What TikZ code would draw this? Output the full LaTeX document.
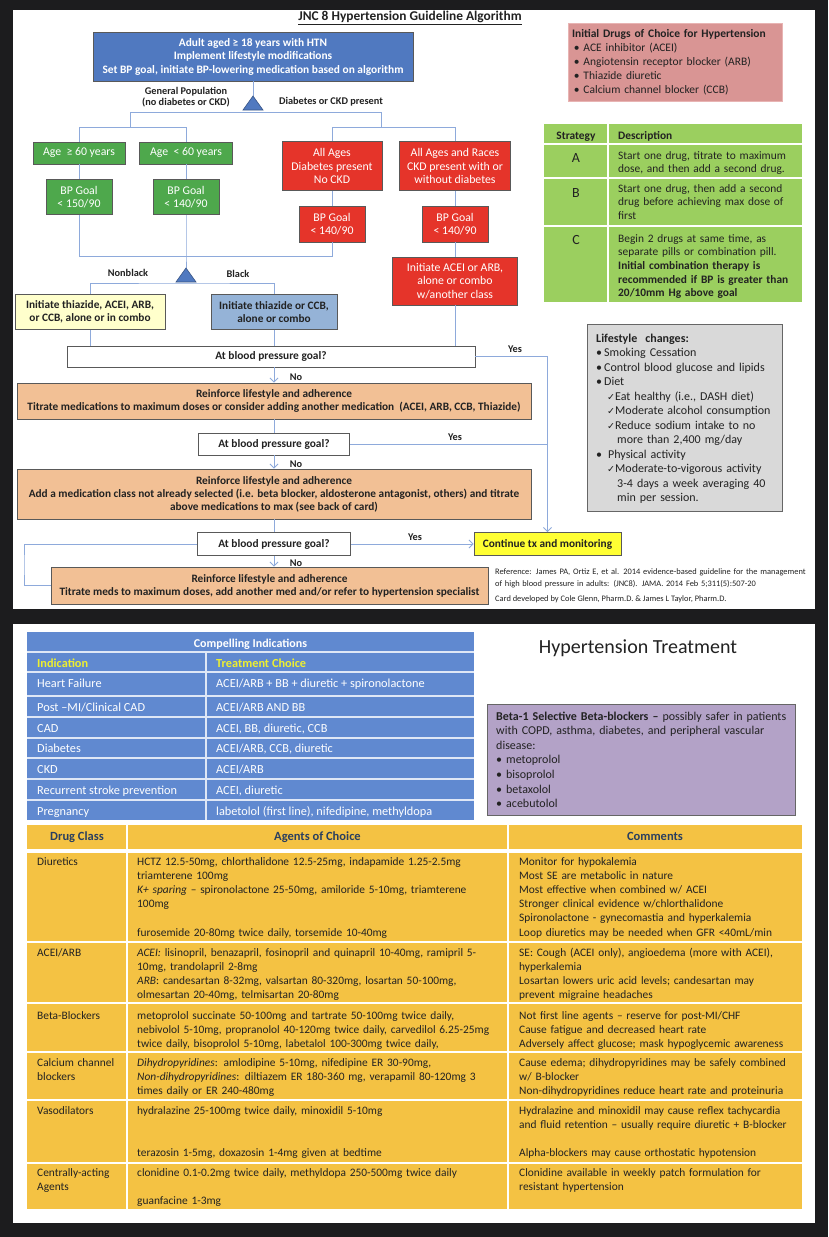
\documentclass[tikz,border=0pt]{standalone}
\usepackage{fontspec}
\setmainfont{Carlito}
\newfontfamily\symfont{DejaVu Sans}
\usetikzlibrary{arrows.meta}

\definecolor{pagebg}{HTML}{1C1C1E}
\definecolor{topblue}{HTML}{5079C0}
\definecolor{goodgreen}{HTML}{4EA84C}
\definecolor{alertred}{HTML}{E5342A}
\definecolor{paleyellow}{HTML}{FFFFCC}
\definecolor{paleblue}{HTML}{95B3D7}
\definecolor{linkblue}{HTML}{8EAADB}
\definecolor{peach}{HTML}{F2C095}
\definecolor{brightyellow}{HTML}{FFFF33}
\definecolor{rosefill}{HTML}{D99594}
\definecolor{roseline}{HTML}{E8B4B3}
\definecolor{stratgreen}{HTML}{9BCF5F}
\definecolor{lifegray}{HTML}{D9D9D9}
\definecolor{indblue}{HTML}{6089D0}
\definecolor{indyellow}{HTML}{EEF030}
\definecolor{lavender}{HTML}{B3A2C7}
\definecolor{gold}{HTML}{F4C243}
\definecolor{slatetext}{HTML}{2A3F5F}
\definecolor{inkgray}{HTML}{222222}

\newcommand{\fsz}[2]{\fontsize{#1}{#2}\selectfont}
\newcommand{\chk}{{\symfont\fsz{9.5}{14}✓}}

\tikzset{
  fbox/.style={draw=black!65, line width=0.8pt, align=center, inner sep=1pt},
  bluebox/.style={fbox, fill=topblue, text=white, font=\bfseries\fsz{11.4}{13.5}},
  greenbox/.style={fbox, fill=goodgreen, text=white, font=\fsz{11.8}{13.5}},
  redbox/.style={fbox, fill=alertred, text=white, font=\fsz{11.8}{13.5}},
  askbox/.style={fbox, fill=white, text=inkgray, font=\bfseries\fsz{11.4}{13}},
  peachbox/.style={fbox, fill=peach, text=inkgray, font=\bfseries\fsz{11.3}{13}},
  tag/.style={text=inkgray, font=\bfseries\fsz{10.3}{11.5}, align=center, inner sep=0pt},
  conn/.style={draw=linkblue, line width=0.9pt},
  arr/.style={conn, -{Straight Barb[length=4pt, width=8pt]}},
  tri/.style={fill=topblue, draw=topblue!70!black, line width=0.6pt},
  cell/.style={anchor=base west, align=left, inner sep=0pt},
}

\begin{document}
\begin{tikzpicture}[x=1pt, y=-1pt]
  % 背景
  \useasboundingbox (0,0) rectangle (828,1237);
  \fill[pagebg] (0,0) rectangle (828,1237);
  \fill[white] (13,10) rectangle (815,609);
  \fill[white] (13,624) rectangle (815,1223);

  % 标题
  \node[text=inkgray, font=\bfseries\fsz{13.4}{15}] (title) at (410,18) {\underline{JNC 8 Hypertension Guideline Algorithm}};

  % 起点
  \node[bluebox, minimum width=320, minimum height=49] (start) at (253,56.5)
    {Adult aged ≥ 18 years with HTN\\Implement lifestyle modifications\\Set BP goal, initiate BP-lowering medication based on algorithm};
  \coordinate (split1) at (253,96);
  \draw[conn] (start) -- (split1);
  \draw[tri] (split1) -- ++(10,14) -- ++(-20,0) -- cycle;
  \node[tag] (lgen) at (186,97) {General Population\\(no diabetes or CKD)};
  \node[tag] (ldk) at (331,102) {Diabetes or CKD present};

  % 一般人群
  \node[greenbox, minimum width=92, minimum height=22] (ageA) at (79,153) {Age ~≥ 60 years};
  \node[greenbox, minimum width=93, minimum height=22] (ageB) at (186,153) {Age ~< 60 years};
  \node[greenbox, minimum width=66, minimum height=35] (goalA) at (79,197) {BP Goal\\< 150/90};
  \node[greenbox, minimum width=66, minimum height=35] (goalB) at (186,197) {BP Goal\\< 140/90};

  % 糖尿病或CKD
  \node[redbox, minimum width=100, minimum height=49] (ckdA) at (332,166) {All Ages\\Diabetes present\\No CKD};
  \node[redbox, minimum width=111, minimum height=49] (ckdB) at (455,166) {All Ages and Races\\CKD present with or\\without diabetes};
  \node[redbox, minimum width=66, minimum height=36] (goalC) at (332,224) {BP Goal\\< 140/90};
  \node[redbox, minimum width=66, minimum height=36] (goalD) at (455,224) {BP Goal\\< 140/90};
  \node[redbox, minimum width=125, minimum height=48] (initR) at (455,281) {Initiate ACEI or ARB,\\alone or combo\\w/another class};

  % 分支连线
  \coordinate (jL) at (130,127);
  \coordinate (dk) at (381,112);
  \coordinate (jR) at (381,127);
  \draw[conn] (ageA) |- (jL);
  \draw[conn] (ageB) |- (jL);
  \draw[conn] (jL) |- (dk) -- (jR);
  \draw[conn] (ckdA) |- (jR);
  \draw[conn] (ckdB) |- (jR);
  \draw[conn] (ageA) -- (goalA);
  \draw[conn] (ageB) -- (goalB);
  \draw[conn] (ckdA) -- (goalC);
  \draw[conn] (ckdB) -- (goalD);
  \draw[conn] (goalD) -- (initR);

  % 种族
  \coordinate (jM) at (186,256);
  \coordinate (split2) at (186,268);
  \coordinate (jB) at (186,283);
  \draw[conn] (goalA) |- (jM);
  \draw[conn] (goalC) |- (jM);
  \draw[conn] (goalB) -- (jM) -- (split2);
  \draw[tri] (split2) -- ++(10,14) -- ++(-20,0) -- cycle;
  \node[tag] (lnb) at (128,273) {Nonblack};
  \node[tag] (lbl) at (238,274) {Black};
  \node[fbox, fill=paleyellow, text=inkgray, font=\bfseries\fsz{11.3}{13}, minimum width=150, minimum height=35] (initA) at (90,312)
    {Initiate thiazide, ACEI, ARB,\\or CCB, alone or in combo};
  \node[fbox, fill=paleblue, text=inkgray, font=\bfseries\fsz{11.3}{13}, minimum width=126, minimum height=35] (initB) at (274,312)
    {Initiate thiazide or CCB,\\alone or combo};
  \draw[conn] (initA) |- (jB) -| (initB);

  % 血压目标检查
  \node[askbox, minimum width=408, minimum height=21] (check1) at (271,356.5) {At blood pressure goal?};
  \draw[conn] (initA) -- (initA |- check1.north);
  \draw[conn] (initB) -- (initB |- check1.north);
  \draw[conn] (initR) -- (initR |- check1.north);

  \node[peachbox, minimum width=514, minimum height=36] (ord1) at (274,401)
    {Reinforce lifestyle and adherence\\Titrate medications to maximum doses or consider adding another medication~ (ACEI, ARB, CCB, Thiazide)};
  \node[askbox, minimum width=151, minimum height=22] (check2) at (274,444) {At blood pressure goal?};
  \node[peachbox, minimum width=514, minimum height=50] (ord2) at (274,494)
    {Reinforce lifestyle and adherence\\Add a medication class not already selected (i.e. beta blocker, aldosterone antagonist, others) and titrate\\above medications to max (see back of card)};
  \node[askbox, minimum width=153, minimum height=23] (check3) at (274,544) {At blood pressure goal?};
  \node[peachbox, minimum width=437, minimum height=37] (ord3) at (269.5,585.5)
    {Reinforce lifestyle and adherence\\Titrate meds to maximum doses, add another med and/or refer to hypertension specialist};
  \node[fbox, fill=brightyellow, text=inkgray, font=\bfseries\fsz{11.3}{13}, minimum width=147, minimum height=23] (cont) at (547.5,544)
    {Continue tx and monitoring};

  \draw[arr] (check1.south -| ord1) -- (ord1);
  \draw[conn] (ord1) -- (check2);
  \draw[arr] (check2) -- (ord2);
  \draw[conn] (ord2) -- (check3);
  \draw[arr] (check3) -- (check3 |- ord3.north);
  \draw[arr] (check1) -| (cont);
  \draw[conn] (check2) -- (check2.east -| cont);
  \draw[arr] (check3) -- (cont);
  \coordinate (loop) at (24,565);
  \draw[conn] (check3) -| (loop) |- (ord3);

  \node[tag] (no1) at (296,377) {No};
  \node[tag] (no2) at (296,464) {No};
  \node[tag] (no3) at (296,563) {No};
  \node[tag] (yes1) at (515,349) {Yes};
  \node[tag] (yes2) at (455,437) {Yes};
  \node[tag] (yes3) at (415,537) {Yes};

  % 参考文献
  \node[cell, text width=400, text=inkgray, font=\fsz{8.4}{12}] (refnote) at (495,574)
    {Reference: James PA, Ortiz E, et al. 2014 evidence-based guideline for the management\\of high blood pressure in adults: (JNC8). JAMA. 2014 Feb 5;311(5):507-20};
  \node[cell, text=inkgray, font=\fsz{8.4}{12}] (credit) at (495,601)
    {Card developed by Cole Glenn, Pharm.D. \& James L Taylor, Pharm.D.};

  % 首选药物
  \node[draw=roseline, line width=1pt, fill=rosefill, minimum width=214, minimum height=78, text width=206,
        align=left, font=\fsz{11.5}{14}, text=inkgray, inner sep=0pt] (initdrugs) at (675,62)
    {\textbf{Initial Drugs of Choice for Hypertension}\\\,•~ACE inhibitor (ACEI)\\\,•~Angiotensin receptor blocker (ARB)\\\,•~Thiazide diuretic\\\,•~Calcium channel blocker (CCB)};

  % 策略表
  \fill[stratgreen] (544,124) rectangle (802,302);
  \draw[white, line width=2pt] (608,124) -- (608,302);
  \foreach \yy in {144,178,226}
    \draw[white, line width=2pt] (544,\yy) -- (802,\yy);
  \node[anchor=base, inner sep=0pt, text=inkgray, font=\bfseries\fsz{11.4}{13.7}] (shead) at (576,139) {Strategy};
  \node[cell, text=inkgray, font=\bfseries\fsz{11.4}{13.7}] (dhead) at (618,139) {Description};
  \node[anchor=base, inner sep=0pt, text=inkgray, font=\fsz{14}{14}] (sA) at (576,162) {A};
  \node[anchor=base, inner sep=0pt, text=inkgray, font=\fsz{14}{14}] (sB) at (576,197) {B};
  \node[anchor=base, inner sep=0pt, text=inkgray, font=\fsz{14}{14}] (sC) at (576,244) {C};
  \node[cell, text width=190, text=inkgray, font=\fsz{11.4}{13.7}] (dA) at (618,159)
    {Start one drug, titrate to maximum\\dose, and then add a second drug.};
  \node[cell, text width=190, text=inkgray, font=\fsz{11.4}{13.7}] (dB) at (618,192)
    {Start one drug, then add a second\\drug before achieving max dose of\\first};
  \node[cell, text width=190, text=inkgray, font=\fsz{11.4}{13.7}] (dC) at (618,242)
    {Begin 2 drugs at same time, as\\separate pills or combination pill.\\\textbf{Initial combination therapy is}\\\textbf{recommended if BP is greater than}\\\textbf{20/10mm Hg above goal}};

  % 生活方式
  \node[draw=black!60, line width=0.8pt, fill=lifegray, minimum width=195, minimum height=187, anchor=north west] (lifebox) at (587,324) {};
  \node[cell, text width=185, text=inkgray, font=\fsz{12}{14.5}] (lifetext) at (596,342)
    {\textbf{Lifestyle\ \ changes:}\\
     •\,Smoking Cessation\\
     •\,Control blood glucose and lipids\\
     •\,Diet\\
     \hspace*{11pt}\chk Eat healthy (i.e., DASH diet)\\
     \hspace*{11pt}\chk Moderate alcohol consumption\\
     \hspace*{11pt}\chk Reduce sodium intake to no\\
     \hspace*{21pt}more than 2,400 mg/day\\
     •\hspace{6pt}Physical activity\\
     \hspace*{11pt}\chk Moderate-to-vigorous activity\\
     \hspace*{21pt}3-4 days a week averaging 40\\
     \hspace*{21pt}min per session.};

  % 强适应证表
  \fill[indblue] (27,632) rectangle (474,820);
  \foreach \yy in {651.5,672,696,716.5,737.5,758,779,800}
    \draw[white!80!indblue, line width=2pt] (27,\yy) -- (474,\yy);
  \draw[white!80!indblue, line width=2pt] (206,651.5) -- (206,820);
  \node[anchor=base, inner sep=0pt, text=white, font=\bfseries\fsz{12}{13}] (cihead) at (250.5,647) {Compelling Indications};
  \node[cell, text=indyellow, font=\bfseries\fsz{12.3}{13}] (ciind) at (37,667) {Indication};
  \node[cell, text=indyellow, font=\bfseries\fsz{12.3}{13}] (citreat) at (216,667) {Treatment Choice};
  \node[cell, text=white, font=\fsz{12.3}{13}] (ci1l) at (37,687) {Heart Failure};
  \node[cell, text=white, font=\fsz{12.3}{13}] (ci1r) at (216,687) {ACEI/ARB + BB + diuretic + spironolactone};
  \node[cell, text=white, font=\fsz{12.3}{13}] (ci2l) at (37,711) {Post –MI/Clinical CAD};
  \node[cell, text=white, font=\fsz{12.3}{13}] (ci2r) at (216,711) {ACEI/ARB AND BB};
  \node[cell, text=white, font=\fsz{12.3}{13}] (ci3l) at (37,732) {CAD};
  \node[cell, text=white, font=\fsz{12.3}{13}] (ci3r) at (216,732) {ACEI, BB, diuretic, CCB};
  \node[cell, text=white, font=\fsz{12.3}{13}] (ci4l) at (37,752) {Diabetes};
  \node[cell, text=white, font=\fsz{12.3}{13}] (ci4r) at (216,752) {ACEI/ARB, CCB, diuretic};
  \node[cell, text=white, font=\fsz{12.3}{13}] (ci5l) at (37,773) {CKD};
  \node[cell, text=white, font=\fsz{12.3}{13}] (ci5r) at (216,773) {ACEI/ARB};
  \node[cell, text=white, font=\fsz{12.3}{13}] (ci6l) at (37,794) {Recurrent stroke prevention};
  \node[cell, text=white, font=\fsz{12.3}{13}] (ci6r) at (216,794) {ACEI, diuretic};
  \node[cell, text=white, font=\fsz{12.3}{13}] (ci7l) at (37,815) {Pregnancy};
  \node[cell, text=white, font=\fsz{12.3}{13}] (ci7r) at (216,815) {labetolol (first line), nifedipine, methyldopa};

  % 右上标题与β阻滞剂
  \node[text=inkgray, font=\fsz{20}{22}] (httitle) at (638,648) {Hypertension Treatment};
  \node[draw=black!60, line width=0.8pt, fill=lavender, minimum width=308, minimum height=111, anchor=north west] (bbbox) at (487,704) {};
  \node[cell, text width=310, text=inkgray, font=\fsz{12}{14.6}] (bbtext) at (496,720)
    {\textbf{Beta-1 Selective Beta-blockers –} possibly safer in patients\\with COPD, asthma, diabetes, and peripheral vascular\\disease:\\•~metoprolol\\•~bisoprolol\\•~betaxolol\\•~acebutolol};

  % 药物表
  \fill[gold] (27,825) rectangle (802,1209);
  \draw[white, line width=2pt] (127,825) -- (127,1209);
  \draw[white, line width=2pt] (508,825) -- (508,1209);
  \draw[white, line width=3.5pt] (27,851) -- (802,851);
  \foreach \yy in {942,1003,1052,1100,1163}
    \draw[white, line width=2pt] (27,\yy) -- (802,\yy);
  \node[anchor=base, inner sep=0pt, text=slatetext, font=\bfseries\fsz{12.5}{13}] (hclass) at (77,840) {Drug Class};
  \node[anchor=base, inner sep=0pt, text=slatetext, font=\bfseries\fsz{12.5}{13}] (hagent) at (317.5,840) {Agents of Choice};
  \node[anchor=base, inner sep=0pt, text=slatetext, font=\bfseries\fsz{12.5}{13}] (hnote) at (655,840) {Comments};

  \node[cell, text width=88, text=inkgray, font=\fsz{11.4}{14.1}] (c1) at (37,865.5) {Diuretics};
  \node[cell, text width=370, text=inkgray, font=\fsz{11.4}{14.1}] (a1) at (137,865.5)
    {HCTZ 12.5-50mg, chlorthalidone 12.5-25mg, indapamide 1.25-2.5mg\\triamterene 100mg\\\textit{K+ sparing} – spironolactone 25-50mg, amiloride 5-10mg, triamterene\\100mg\\[14.1pt]furosemide 20-80mg twice daily, torsemide 10-40mg};
  \node[cell, text width=290, text=inkgray, font=\fsz{11.4}{14.1}] (n1) at (519,865.5)
    {Monitor for hypokalemia\\Most SE are metabolic in nature\\Most effective when combined w/ ACEI\\Stronger clinical evidence w/chlorthalidone\\Spironolactone - gynecomastia and hyperkalemia\\Loop diuretics may be needed when GFR <40mL/min};

  \node[cell, text width=88, text=inkgray, font=\fsz{11.4}{14.1}] (c2) at (37,956.5) {ACEI/ARB};
  \node[cell, text width=370, text=inkgray, font=\fsz{11.4}{14.1}] (a2) at (137,956.5)
    {\textit{ACEI:} lisinopril, benazapril, fosinopril and quinapril 10-40mg, ramipril 5-\\10mg, trandolapril 2-8mg\\\textit{ARB}: candesartan 8-32mg, valsartan 80-320mg, losartan 50-100mg,\\olmesartan 20-40mg, telmisartan 20-80mg};
  \node[cell, text width=290, text=inkgray, font=\fsz{11.4}{14.1}] (n2) at (519,956.5)
    {SE: Cough (ACEI only), angioedema (more with ACEI),\\hyperkalemia\\Losartan lowers uric acid levels; candesartan may\\prevent migraine headaches};

  \node[cell, text width=88, text=inkgray, font=\fsz{11.4}{14.1}] (c3) at (37,1019) {Beta-Blockers};
  \node[cell, text width=370, text=inkgray, font=\fsz{11.4}{14.1}] (a3) at (137,1019)
    {metoprolol succinate 50-100mg and tartrate 50-100mg twice daily,\\nebivolol 5-10mg, propranolol 40-120mg twice daily, carvedilol 6.25-25mg\\twice daily, bisoprolol 5-10mg, labetalol 100-300mg twice daily,};
  \node[cell, text width=290, text=inkgray, font=\fsz{11.4}{14.1}] (n3) at (519,1019)
    {Not first line agents – reserve for post-MI/CHF\\Cause fatigue and decreased heart rate\\Adversely affect glucose; mask hypoglycemic awareness};

  \node[cell, text width=88, text=inkgray, font=\fsz{11.4}{14.1}] (c4) at (37,1066.5) {Calcium channel\\blockers};
  \node[cell, text width=370, text=inkgray, font=\fsz{11.4}{14.1}] (a4) at (137,1066.5)
    {\textit{Dihydropyridines}: amlodipine 5-10mg, nifedipine ER 30-90mg,\\\textit{Non-dihydropyridines}: diltiazem ER 180-360 mg, verapamil 80-120mg 3\\times daily or ER 240-480mg};
  \node[cell, text width=290, text=inkgray, font=\fsz{11.4}{14.1}] (n4) at (519,1066.5)
    {Cause edema; dihydropyridines may be safely combined\\w/ B-blocker\\Non-dihydropyridines reduce heart rate and proteinuria};

  \node[cell, text width=88, text=inkgray, font=\fsz{11.4}{14.1}] (c5) at (37,1114) {Vasodilators};
  \node[cell, text width=370, text=inkgray, font=\fsz{11.4}{14.1}] (a5) at (137,1114)
    {hydralazine 25-100mg twice daily, minoxidil 5-10mg\\[28.2pt]terazosin 1-5mg, doxazosin 1-4mg given at bedtime};
  \node[cell, text width=290, text=inkgray, font=\fsz{11.4}{14.1}] (n5) at (519,1114)
    {Hydralazine and minoxidil may cause reflex tachycardia\\and fluid retention – usually require diuretic + B-blocker\\[14.1pt]Alpha-blockers may cause orthostatic hypotension};

  \node[cell, text width=88, text=inkgray, font=\fsz{11.4}{14.1}] (c6) at (37,1176.5) {Centrally-acting\\Agents};
  \node[cell, text width=370, text=inkgray, font=\fsz{11.4}{14.1}] (a6) at (137,1176.5)
    {clonidine 0.1-0.2mg twice daily, methyldopa 250-500mg twice daily\\[14.1pt]guanfacine 1-3mg};
  \node[cell, text width=290, text=inkgray, font=\fsz{11.4}{14.1}] (n6) at (519,1176.5)
    {Clonidine available in weekly patch formulation for\\resistant hypertension};
\end{tikzpicture}
\end{document}
